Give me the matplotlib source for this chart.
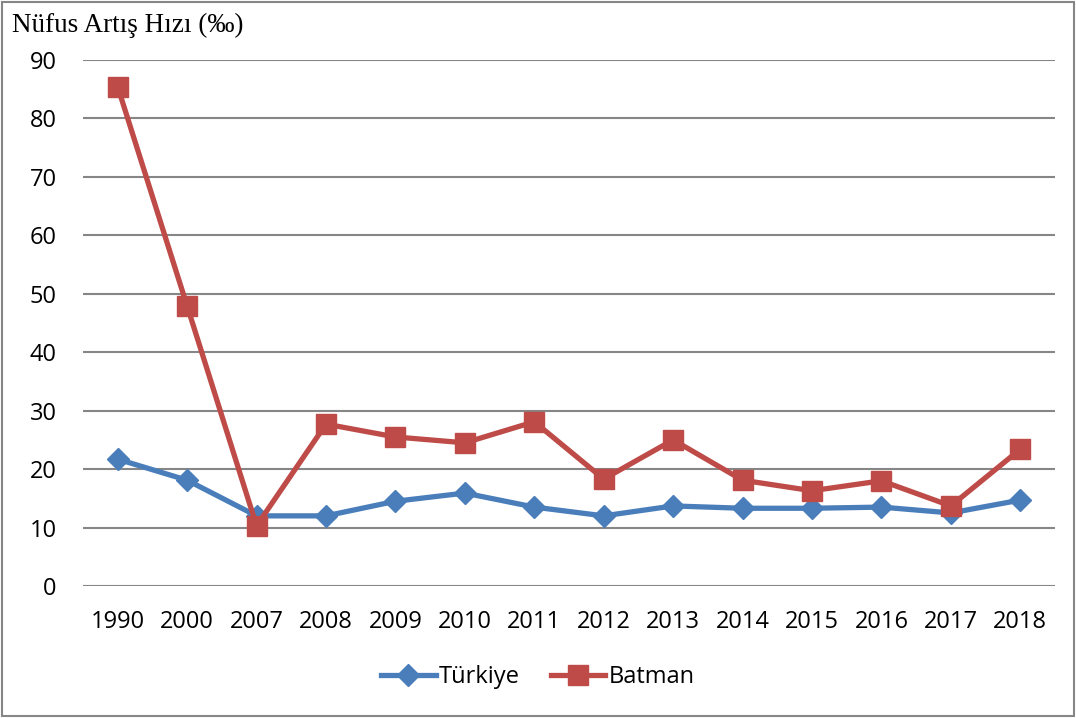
import matplotlib.pyplot as plt
from matplotlib.patches import Rectangle

years = ['1990', '2000', '2007', '2008', '2009', '2010', '2011', '2012',
         '2013', '2014', '2015', '2016', '2017', '2018']
turkiye = [21.7, 18.1, 12.0, 12.0, 14.5, 15.9, 13.5, 12.0, 13.7, 13.3, 13.3, 13.5, 12.5, 14.7]
batman = [85.4, 47.9, 10.3, 27.7, 25.5, 24.5, 28.1, 18.3, 25.0, 18.1, 16.3, 18.0, 13.7, 23.4]

fig = plt.figure(figsize=(10.76, 7.18), dpi=100)
ax = fig.add_axes([83 / 1076, 1 - 586 / 718, 972 / 1076, 526 / 718])

x = list(range(len(years)))
ax.plot(x, turkiye, color='#4A7EBB', lw=3.8, marker='D', ms=11, label='Türkiye')
ax.plot(x, batman, color='#BE4B48', lw=3.8, marker='s', ms=14, label='Batman')

ax.set_xlim(-0.5, len(years) - 0.5)
ax.set_ylim(0, 90)
ax.set_yticks(range(0, 91, 10))
ax.set_xticks(x)
ax.set_xticklabels(years)
ax.yaxis.grid(True, color='#868686', lw=1.5)
ax.set_axisbelow(True)
for s in ax.spines.values():
    s.set_visible(False)
ax.tick_params(length=0, labelsize=17)
ax.tick_params(axis='x', pad=17)
ax.tick_params(axis='y', pad=19)
for lbl in ax.get_xticklabels() + ax.get_yticklabels():
    lbl.set_fontfamily('Open Sans')

fig.text(12 / 1076, 1 - 25 / 718, 'Nüfus Artış Hızı (‰)', family='Liberation Serif',
         fontsize=19.5, va='center', ha='left')

fig.legend(loc='center', bbox_to_anchor=(0.5, 1 - 677 / 718), ncol=2, frameon=False,
           prop={'family': 'Open Sans', 'size': 17}, handlelength=2.3, columnspacing=1.3,
           handletextpad=0.15)

fig.patches.append(Rectangle((0.002, 0.003), 0.996, 0.994, transform=fig.transFigure,
                             fill=False, edgecolor='#868686', lw=1.5))

fig.savefig('out.png', dpi=100)
